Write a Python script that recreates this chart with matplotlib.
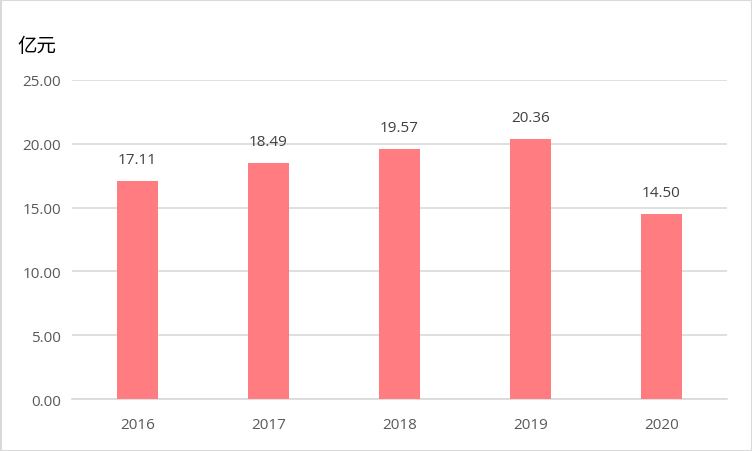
import matplotlib
matplotlib.use("Agg")
import matplotlib.pyplot as plt
from matplotlib.patches import Rectangle

years = ["2016", "2017", "2018", "2019", "2020"]
values = [17.11, 18.49, 19.57, 20.36, 14.50]
yticks = [0, 5, 10, 15, 20, 25]

plt.rcParams['font.family'] = ['Noto Sans CJK SC', 'DejaVu Sans']

fig = plt.figure(figsize=(7.52, 4.52), dpi=100)
ax = fig.add_axes([72/752, 1-400/452, 655/752, 319/452])
x = range(len(years))
ax.bar(x, values, width=0.31, color="#FF7C80", zorder=3)
ax.set_xlim(-0.5, len(years)-0.5)
ax.set_ylim(0, 25)
ax.set_yticks(yticks)
ax.set_yticklabels([f"{v:.2f}" for v in yticks], fontsize=11, color="#595959", family=['Open Sans', 'DejaVu Sans'])
ax.set_xticks(list(x))
ax.set_xticklabels(years, fontsize=11, color="#595959", family=['Open Sans', 'DejaVu Sans'])
ax.tick_params(length=0, pad=8)
ax.tick_params(axis='x', pad=13)
ax.grid(axis='y', color="#D9D9D9", linewidth=1.2, zorder=0)
for s in ["top", "right", "left"]:
    ax.spines[s].set_visible(False)
ax.spines["bottom"].set_color("#D9D9D9")
ax.spines["bottom"].set_linewidth(1.2)
for xi, v in zip(x, values):
    ax.annotate(f"{v:.2f}", (xi, v), xytext=(0, 10), textcoords="offset points",
                ha="center", va="bottom", fontsize=11, color="#404040",
                family=['Open Sans', 'DejaVu Sans'])
fig.text(17/752, 1-47/452, "亿元", fontsize=14, color="black", ha="left", va="center")
fig.patches.append(Rectangle((0.5/752, 0.5/452), 751/752, 451/452, transform=fig.transFigure,
                             fill=False, edgecolor="#D9D9D9", linewidth=1.5))
fig.savefig("out.png", dpi=100)
